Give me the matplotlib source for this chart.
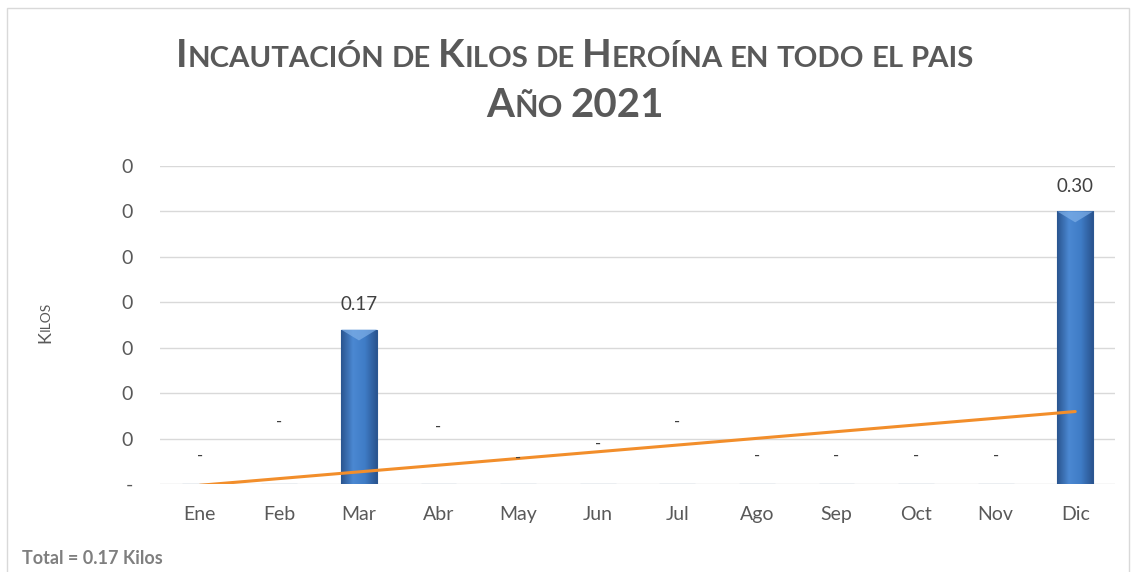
import numpy as np
import matplotlib
matplotlib.use("Agg")
import matplotlib.pyplot as plt
from matplotlib.colors import LinearSegmentedColormap
from matplotlib.patches import Rectangle

# Datos
meses = ['Ene', 'Feb', 'Mar', 'Abr', 'May', 'Jun', 'Jul', 'Ago', 'Sep', 'Oct', 'Nov', 'Dic']
kilos = [0, 0, 0.17, 0, 0, 0, 0, 0, 0, 0, 0, 0.30]
ticks_y = [0, 0.05, 0.10, 0.15, 0.20, 0.25, 0.30, 0.35]
titulo_1 = 'Incautación de Kilos de Heroína en todo el pais'
titulo_2 = 'Año 2021'
nota = 'Total = 0.17 Kilos'

# Desfase (pt) de las etiquetas "-" de los meses sin datos, como en Excel
desfase_guion = [20, 45, 0, 41, 19, 29, 45, 20, 20, 20, 20, 0]

FUENTE = 'Lato'
GRIS = '#595959'
plt.rcParams['font.family'] = [FUENTE, 'DejaVu Sans']

fig = plt.figure(figsize=(11.36, 5.72), dpi=100)
r = fig.canvas.get_renderer()
W, H = fig.bbox.width, fig.bbox.height

# Marco del gráfico (el borde inferior queda fuera de la imagen)
fig.add_artist(Rectangle((7 / W, -10 / H), 1 - 14 / W, 1 + 2 / H, transform=fig.transFigure,
                         fill=False, edgecolor='#d9d9d9', lw=1))

ax = fig.add_axes([160 / W, 88 / H, 955 / W, 318 / H])
x = np.arange(len(meses))

barras = ax.bar(x, kilos, width=0.45, color='#3b75bf', edgecolor='#2b5791', lw=0.8, zorder=2)

# Degradado de las barras
cmap = LinearSegmentedColormap.from_list('bisel', ['#2a5590', '#4b88d2', '#3f7cc6', '#2a5590'])
grad = np.linspace(0, 1, 64).reshape(1, -1)
for b, v in zip(barras, kilos):
    if v <= 0:
        continue
    im = ax.imshow(grad, cmap=cmap, aspect='auto', zorder=2.5,
                   extent=[b.get_x(), b.get_x() + b.get_width(), 0, v])
    im.set_clip_path(b)
    # brillo superior
    ax.fill([b.get_x(), b.get_x() + b.get_width(), b.get_x() + b.get_width() * 0.5],
            [v, v, v - 0.012], color='#7fb0e8', alpha=0.7, zorder=2.6, lw=0)

# Línea de tendencia lineal
m, c = np.polyfit(x, kilos, 1)
ax.plot(x, m * x + c, color='#f28e2b', lw=2.2, zorder=3, solid_capstyle='round')

# Etiquetas de datos
for i, v in enumerate(kilos):
    if v > 0:
        ax.annotate(f'{v:.2f}', (i, v), xytext=(0, 18), textcoords='offset points',
                    ha='center', va='center', fontsize=13.5, color='#404040')
    else:
        ax.annotate('-', (i, 0), xytext=(0, desfase_guion[i]), textcoords='offset points',
                    ha='center', va='center', fontsize=12, color='#404040')

ax.set_xlim(-0.5, len(meses) - 0.5)
ax.set_ylim(0, 0.35)
ax.set_yticks(ticks_y)
ax.set_yticklabels(['-'] + ['0'] * (len(ticks_y) - 1))
ax.set_xticks(x)
ax.set_xticklabels(meses)
ax.tick_params(length=0, labelsize=14, labelcolor=GRIS)
ax.tick_params(axis='y', pad=19.5)
ax.tick_params(axis='x', pad=16)
ax.grid(axis='y', color='#d9d9d9', lw=1, zorder=0)
ax.set_axisbelow(True)
for s in ax.spines.values():
    s.set_visible(False)


def ancho(s, tam, **kw):
    t = fig.text(0, 0, s, fontsize=tam, **kw)
    w = t.get_window_extent(r).width
    t.remove()
    return w


def versalitas(texto, cx, cy, tam, rel=0.76, objetivo=None, rot=0, **kw):
    # texto en versalitas: minúsculas como mayúsculas más pequeñas
    trozos = []
    for ch in texto:
        tipo = 'e' if ch == ' ' else ('p' if ch.islower() else 'g')
        if trozos and trozos[-1][1] == tipo:
            trozos[-1][0] += ch.upper()
        else:
            trozos.append([ch.upper(), tipo])

    def medir(t):
        res = []
        for s, tipo in trozos:
            if tipo == 'e':
                w = (ancho('x x', t * rel, **kw) - ancho('xx', t * rel, **kw)) * len(s)
            else:
                w = ancho(s, t * rel if tipo == 'p' else t, **kw)
            res.append(w)
        return res

    anchos = medir(tam)
    if objetivo:
        tam = tam * objetivo / sum(anchos)
        anchos = medir(tam)
    pos = -sum(anchos) / 2
    for (s, tipo), w in zip(trozos, anchos):
        if tipo != 'e':
            t = tam * rel if tipo == 'p' else tam
            if rot == 0:
                fig.text((cx + pos) / W, cy / H, s, fontsize=t, ha='left', va='baseline',
                         rotation_mode='anchor', **kw)
            else:
                fig.text(cx / W, (cy + pos) / H, s, fontsize=t, ha='left', va='baseline',
                         rotation=90, rotation_mode='anchor', **kw)
        pos += w


versalitas(titulo_1, 575, 572 - 67, 29, objetivo=800, color=GRIS, fontweight='bold')
versalitas(titulo_2, 575, 572 - 117, 29, color=GRIS, fontweight='bold')
versalitas('Kilos', 50, 572 - 322, 13, rot=90, color=GRIS)

fig.text(22 / W, 14 / H, nota, fontsize=13, fontweight='bold', color='#7f7f7f',
         ha='left', va='center')

fig.savefig('out.png', dpi=100)
